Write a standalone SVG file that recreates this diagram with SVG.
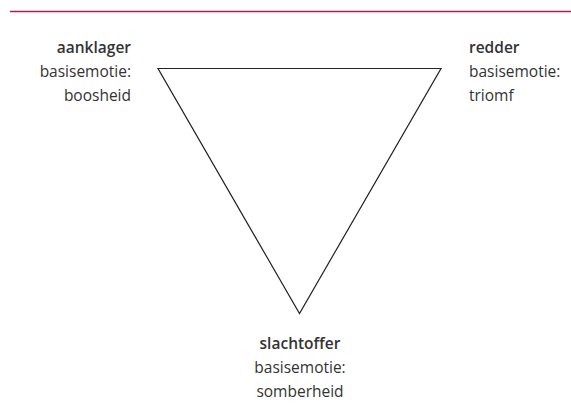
<svg xmlns="http://www.w3.org/2000/svg" width="571" height="414" viewBox="0 0 571 414">
<style>
text{font-family:"Open Sans","Noto Sans",sans-serif;font-size:15.5px;fill:#333}
.b{font-weight:600}
.l{text-anchor:end}
.m{text-anchor:middle}
</style>
<rect width="571" height="414" fill="#fff"/>
<line x1="10" y1="11.5" x2="571" y2="11.5" stroke="#b41e4e" stroke-width="1.6"/>
<g id="connectors">
<polygon points="158,68.5 441,68.5 299.5,313.5" fill="none" stroke="#222" stroke-width="1.2"/>
</g>
<g id="aanklager">
<text class="b l" x="131" y="53">aanklager</text>
<text class="l" x="131" y="77">basisemotie:</text>
<text class="l" x="131" y="101">boosheid</text>
</g>
<g id="redder">
<text class="b" x="469" y="53">redder</text>
<text x="469" y="77">basisemotie:</text>
<text x="469" y="101">triomf</text>
</g>
<g id="slachtoffer">
<text class="b m" x="300" y="349">slachtoffer</text>
<text class="m" x="300" y="373">basisemotie:</text>
<text class="m" x="300" y="397">somberheid</text>
</g>
</svg>
